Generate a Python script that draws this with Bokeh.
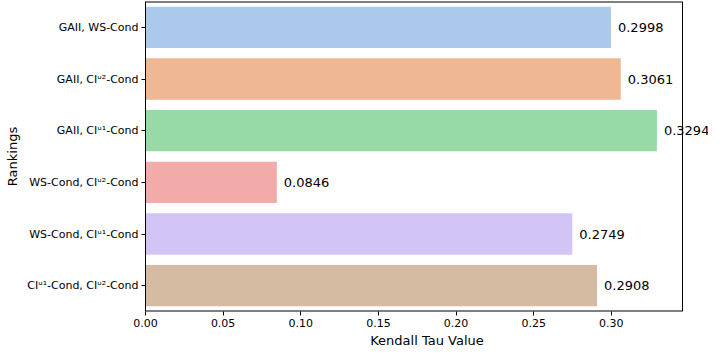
import colorsys
from bokeh.plotting import figure
from bokeh.models import Range1d, FixedTicker, NumeralTickFormatter, Label, Span, Title
from bokeh.embed import file_html
from bokeh.resources import INLINE

categories = [
    "GAII, WS-Cond",
    "GAII, CI\u1d58\u00b2-Cond",
    "GAII, CI\u1d58\u00b9-Cond",
    "WS-Cond, CI\u1d58\u00b2-Cond",
    "WS-Cond, CI\u1d58\u00b9-Cond",
    "CI\u1d58\u00b9-Cond, CI\u1d58\u00b2-Cond",
]
values = [0.2998, 0.3061, 0.3294, 0.0846, 0.2749, 0.2908]
x_ticks = [0.00, 0.05, 0.10, 0.15, 0.20, 0.25, 0.30]
base_palette = ["#a1c9f4", "#ffb482", "#8de5a1", "#ff9f9b", "#d0bbff", "#debb9b"]


def desaturate(hex_color, prop=0.75):
    r, g, b = (int(hex_color[i:i + 2], 16) / 255 for i in (1, 3, 5))
    h, l, s = colorsys.rgb_to_hls(r, g, b)
    r, g, b = colorsys.hls_to_rgb(h, l, s * prop)
    return "#%02x%02x%02x" % (round(r * 255), round(g * 255), round(b * 255))


colors = [desaturate(c) for c in base_palette]
labels = [f"{v:.4f}" for v in values]
positions = list(range(len(categories)))

FONT = "DejaVu Sans"
W, H = 708, 348
LEFT, SPINE_RIGHT, TOP, BOTTOM = 145, 682, 1, 30
xmax = max(values) * 1.05
# frame reaches the canvas edge so the value texts can run past the right spine
x_end = xmax * (W - LEFT) / (SPINE_RIGHT - LEFT)
y_top, y_bottom = -0.5, len(categories) - 0.5

p = figure(
    width=W, height=H,
    y_range=Range1d(y_bottom, y_top),
    x_range=Range1d(0, x_end),
    output_backend="svg", toolbar_location=None,
    min_border_left=LEFT, min_border_right=0, min_border_top=TOP, min_border_bottom=BOTTOM,
)

p.hbar(y=positions, right=values, left=0, height=0.8, color=colors, line_color=None)

for pos, v, lab in zip(positions, values, labels):
    p.add_layout(Label(x=v, y=pos, text=lab, x_offset=7, text_baseline="middle",
                       text_font_size="13px", text_font=FONT, text_color="black"))

# spines: top, bottom and right drawn up to the x limit
p.segment(x0=[0, 0], y0=[y_top, y_bottom], x1=[xmax, xmax], y1=[y_top, y_bottom],
          line_color="black", line_width=2)
p.add_layout(Span(location=xmax, dimension="height", line_color="black", line_width=1))

p.xgrid.visible = False
p.ygrid.visible = False
p.outline_line_color = None
p.background_fill_color = "white"
p.border_fill_color = "white"

p.xaxis.ticker = FixedTicker(ticks=x_ticks)
p.xaxis.formatter = NumeralTickFormatter(format="0.00")
p.yaxis.ticker = FixedTicker(ticks=positions)
p.yaxis.major_label_overrides = {pos: cat for pos, cat in zip(positions, categories)}
p.yaxis.axis_label = "Rankings"
p.xaxis.axis_line_color = None
p.yaxis.axis_line_color = "black"

for ax in (p.xaxis, p.yaxis):
    ax.axis_label_text_font = FONT
    ax.axis_label_text_font_size = "13px"
    ax.axis_label_text_font_style = "normal"
    ax.axis_label_text_color = "black"
    ax.major_label_text_font = FONT
    ax.major_label_text_font_size = "11px"
    ax.major_label_text_color = "black"
    ax.major_tick_line_color = "black"
    ax.major_tick_out = 4
    ax.major_tick_in = 0
    ax.minor_tick_line_color = None
    ax.major_label_standoff = 3
    ax.axis_label_standoff = 4

shift = -((W - LEFT) - (SPINE_RIGHT - LEFT)) / 2
p.add_layout(Title(text="Kendall Tau Value", align="center", offset=shift,
                   text_font=FONT, text_font_size="13px", text_font_style="normal",
                   text_color="black", standoff=2), "below")

open("out.html", "w").write(file_html(p, INLINE))
